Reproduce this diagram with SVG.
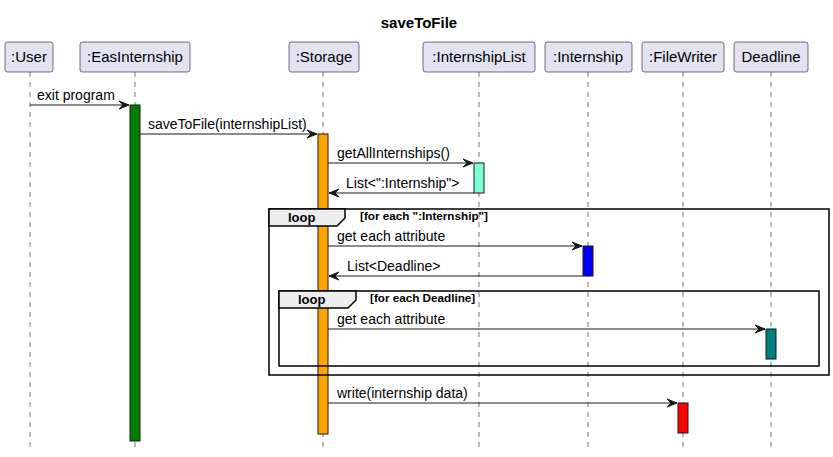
<svg xmlns="http://www.w3.org/2000/svg" width="833" height="457" viewBox="0 0 833 457">
  <style>
    text { font-family: "Liberation Sans", Arial, sans-serif; fill: #000; }
    .title { font-size: 15px; font-weight: bold; }
    .pname { font-size: 15px; }
    .msg { font-size: 14px; }
    .gname { font-size: 13px; font-weight: bold; }
    .gcond { font-size: 11.7px; font-weight: bold; }
    .pbox { fill: #E2E2F0; stroke: #181818; stroke-width: 0.6; }
    .life { stroke: #181818; stroke-width: 0.6; stroke-dasharray: 5 5; }
    .act { stroke: #181818; stroke-width: 1; }
    .call { stroke: #181818; stroke-width: 1; fill: none; }
    .frame { fill: none; stroke: #000; stroke-width: 1.5; }
    .tab { fill: #EEEEEE; stroke: #000; stroke-width: 1.5; }
  </style>
  <defs>
    <marker id="arrow" viewBox="0 0 11 10" refX="10" refY="5" markerWidth="11" markerHeight="10" markerUnits="userSpaceOnUse" orient="auto">
      <polygon points="0,1 10,5 0,9 4,5" fill="#181818" stroke="#181818" stroke-width="1"/>
    </marker>
  </defs>

  <rect width="833" height="457" fill="#FFFFFF"/>

  <text class="title" x="419" y="28" text-anchor="middle">saveToFile</text>

  <!-- lifelines -->
  <g id="lifelines">
    <line class="life" x1="30" y1="72" x2="30" y2="448"/>
    <line class="life" x1="135" y1="72" x2="135" y2="448"/>
    <line class="life" x1="323" y1="72" x2="323" y2="448"/>
    <line class="life" x1="479" y1="72" x2="479" y2="448"/>
    <line class="life" x1="588" y1="72" x2="588" y2="448"/>
    <line class="life" x1="683" y1="72" x2="683" y2="448"/>
    <line class="life" x1="771" y1="72" x2="771" y2="448"/>
  </g>

  <!-- participants -->
  <g id="user">
    <rect class="pbox" x="5" y="42" width="48" height="30" rx="2.5"/>
    <text class="pname" x="29" y="62" text-anchor="middle">:User</text>
  </g>
  <g id="easInternship">
    <rect class="pbox" x="80" y="42" width="110" height="30" rx="2.5"/>
    <text class="pname" x="135" y="62" text-anchor="middle">:EasInternship</text>
    <rect class="act" x="130" y="105" width="10" height="336" fill="#008000"/>
  </g>
  <g id="storage">
    <rect class="pbox" x="289" y="42" width="70" height="30" rx="2.5"/>
    <text class="pname" x="324" y="62" text-anchor="middle">:Storage</text>
    <rect class="act" x="318" y="134" width="10" height="300" fill="#FFA500"/>
  </g>
  <g id="internshipList">
    <rect class="pbox" x="423" y="42" width="112" height="30" rx="2.5"/>
    <text class="pname" x="479" y="62" text-anchor="middle">:InternshipList</text>
    <rect class="act" x="474" y="163" width="10" height="30" fill="#7FFFD4"/>
  </g>
  <g id="internship">
    <rect class="pbox" x="545" y="42" width="87" height="30" rx="2.5"/>
    <text class="pname" x="588" y="62" text-anchor="middle">:Internship</text>
    <rect class="act" x="583" y="246" width="10" height="30" fill="#0000FF"/>
  </g>
  <g id="fileWriter">
    <rect class="pbox" x="642" y="42" width="82" height="30" rx="2.5"/>
    <text class="pname" x="683" y="62" text-anchor="middle">:FileWriter</text>
    <rect class="act" x="678" y="403" width="10" height="30" fill="#FF0000"/>
  </g>
  <g id="deadline">
    <rect class="pbox" x="734" y="42" width="74" height="30" rx="2.5"/>
    <text class="pname" x="771" y="62" text-anchor="middle">Deadline</text>
    <rect class="act" x="766" y="329" width="10" height="30" fill="#008080"/>
  </g>

  <!-- loop frames -->
  <g id="loopInternship">
    <rect class="frame" x="269" y="209" width="560" height="166"/>
    <polygon class="tab" points="269,209 345,209 345,218 337,226 269,226"/>
    <text class="gname" x="288" y="222">loop</text>
    <text class="gcond" x="360" y="220">[for each ":Internship"]</text>
  </g>
  <g id="loopDeadline">
    <rect class="frame" x="279" y="291" width="540" height="75"/>
    <polygon class="tab" points="279,291 356,291 356,300 348,308 279,308"/>
    <text class="gname" x="298" y="304">loop</text>
    <text class="gcond" x="370" y="302">[for each Deadline]</text>
  </g>

  <!-- connectors -->
  <g id="connectors">
    <line class="call" x1="30" y1="105" x2="129" y2="105" marker-end="url(#arrow)"/>
    <text class="msg" x="37" y="100">exit program</text>

    <line class="call" x1="140" y1="134" x2="317" y2="134" marker-end="url(#arrow)"/>
    <text class="msg" x="148" y="129">saveToFile(internshipList)</text>

    <line class="call" x1="328" y1="163" x2="473" y2="163" marker-end="url(#arrow)"/>
    <text class="msg" x="337" y="158">getAllInternships()</text>

    <line class="call" x1="474" y1="193" x2="329" y2="193" marker-end="url(#arrow)"/>
    <text class="msg" x="346" y="188">List&lt;":Internship"&gt;</text>

    <line class="call" x1="328" y1="246" x2="582" y2="246" marker-end="url(#arrow)"/>
    <text class="msg" x="337" y="241">get each attribute</text>

    <line class="call" x1="583" y1="276" x2="329" y2="276" marker-end="url(#arrow)"/>
    <text class="msg" x="347" y="271">List&lt;Deadline&gt;</text>

    <line class="call" x1="328" y1="329" x2="765" y2="329" marker-end="url(#arrow)"/>
    <text class="msg" x="337" y="324">get each attribute</text>

    <line class="call" x1="328" y1="403" x2="677" y2="403" marker-end="url(#arrow)"/>
    <text class="msg" x="337" y="398">write(internship data)</text>
  </g>
</svg>
